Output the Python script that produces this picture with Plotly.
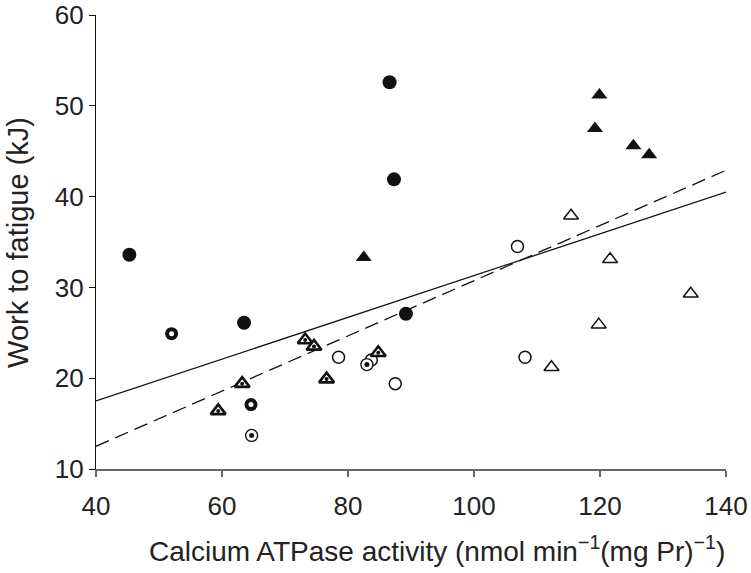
import plotly.graph_objects as go

# ---- data ----
filled_circle_x = [45.3, 63.5, 86.6, 87.3, 89.2]
filled_circle_y = [33.6, 26.1, 52.6, 41.9, 27.1]

open_circle_x = [106.9, 108.1, 78.5, 87.5, 83.7]
open_circle_y = [34.5, 22.3, 22.3, 19.4, 22.0]

ring_circle_x = [52.0, 64.6]
ring_circle_y = [24.9, 17.1]

dot_circle_x = [64.7, 83.0]
dot_circle_y = [13.7, 21.5]

filled_tri_x = [82.5, 119.9, 119.2, 125.3, 127.8]
filled_tri_y = [33.3, 51.2, 47.5, 45.6, 44.6]

open_tri_x = [115.4, 121.6, 134.4, 119.8, 112.3]
open_tri_y = [37.9, 33.1, 29.3, 25.9, 21.2]

dot_tri_x = [59.4, 63.2, 73.2, 74.6, 76.6, 84.8]
dot_tri_y = [16.4, 19.4, 24.2, 23.5, 19.9, 22.8]

fit_x = [40, 140]
solid_fit_y = [17.5, 40.5]
dashed_fit_y = [12.5, 42.9]

x_ticks = [40, 60, 80, 100, 120, 140]
y_ticks = [10, 20, 30, 40, 50, 60]

BLACK = "#111111"
FONT = "Liberation Sans, Arial, Helvetica, sans-serif"

fig = go.Figure()

# regression lines
fig.add_trace(go.Scatter(x=fit_x, y=solid_fit_y, mode="lines",
                         line=dict(color=BLACK, width=1.3), hoverinfo="skip"))
fig.add_trace(go.Scatter(x=fit_x, y=dashed_fit_y, mode="lines",
                         line=dict(color=BLACK, width=1.3, dash="14px,7px"), hoverinfo="skip"))

# filled circles
fig.add_trace(go.Scatter(x=filled_circle_x, y=filled_circle_y, mode="markers",
                         marker=dict(symbol="circle", size=14, color=BLACK, line=dict(width=0))))
# open circles
fig.add_trace(go.Scatter(x=open_circle_x, y=open_circle_y, mode="markers",
                         marker=dict(symbol="circle", size=12, color="white",
                                     line=dict(color=BLACK, width=1.5))))
# thick ring circles with white centre
fig.add_trace(go.Scatter(x=ring_circle_x, y=ring_circle_y, mode="markers",
                         marker=dict(symbol="circle", size=13, color=BLACK, line=dict(width=0))))
fig.add_trace(go.Scatter(x=ring_circle_x, y=ring_circle_y, mode="markers",
                         marker=dict(symbol="circle", size=5, color="white", line=dict(width=0))))
# thin circles with black dot
fig.add_trace(go.Scatter(x=dot_circle_x, y=dot_circle_y, mode="markers",
                         marker=dict(symbol="circle", size=12, color="white",
                                     line=dict(color=BLACK, width=1.4))))
fig.add_trace(go.Scatter(x=dot_circle_x, y=dot_circle_y, mode="markers",
                         marker=dict(symbol="circle", size=5, color=BLACK, line=dict(width=0))))
# filled triangles
fig.add_trace(go.Scatter(x=filled_tri_x, y=filled_tri_y, mode="markers",
                         marker=dict(symbol="triangle-up", size=14, color=BLACK, line=dict(width=0))))
# open triangles
fig.add_trace(go.Scatter(x=open_tri_x, y=open_tri_y, mode="markers",
                         marker=dict(symbol="triangle-up", size=13, color="white",
                                     line=dict(color=BLACK, width=1.5))))
# thick triangles with dot
fig.add_trace(go.Scatter(x=dot_tri_x, y=dot_tri_y, mode="markers",
                         marker=dict(symbol="triangle-up", size=13, color="white",
                                     line=dict(color=BLACK, width=2.6))))
fig.add_trace(go.Scatter(x=dot_tri_x, y=dot_tri_y, mode="markers",
                         marker=dict(symbol="circle", size=4, color=BLACK, line=dict(width=0))))

fig.update_layout(
    width=751, height=573,
    margin=dict(l=96, r=25, t=15, b=104),
    paper_bgcolor="white", plot_bgcolor="white",
    showlegend=False,
    font=dict(family=FONT, size=26, color="#222222"),
    xaxis=dict(range=[40, 140], tickvals=x_ticks, ticks="outside", ticklen=6,
               tickwidth=1.5, tickcolor="#666666", showline=True, linecolor="#666666",
               linewidth=2, showgrid=False, zeroline=False, fixedrange=True,
               automargin=False, ticklabeloverflow="allow", ticklabelstandoff=7,
               tickfont=dict(size=26, color="#222222")),
    yaxis=dict(range=[10, 60], tickvals=y_ticks, ticks="outside", ticklen=6,
               tickwidth=1.3, tickcolor=BLACK, showline=True, linecolor=BLACK,
               linewidth=1.3, showgrid=False, zeroline=False, fixedrange=True,
               automargin=False, ticklabeloverflow="allow",
               tickfont=dict(size=26, color="#222222")),
    annotations=[
        dict(text="Calcium ATPase activity (nmol min<sup>−1</sup>(mg Pr)<sup>−1</sup>)",
             xref="paper", yref="paper", x=0.541, y=-0.177, xanchor="center", yanchor="middle",
             showarrow=False, font=dict(size=28, color="#222222")),
        dict(text="Work to fatigue (kJ)", textangle=-90,
             xref="paper", yref="paper", x=-0.124, y=0.5, xanchor="center", yanchor="middle",
             showarrow=False, font=dict(size=29, color="#222222")),
    ],
)

fig.write_html("out.html", config={"displayModeBar": False},
               post_script="document.body.style.margin='0';")
